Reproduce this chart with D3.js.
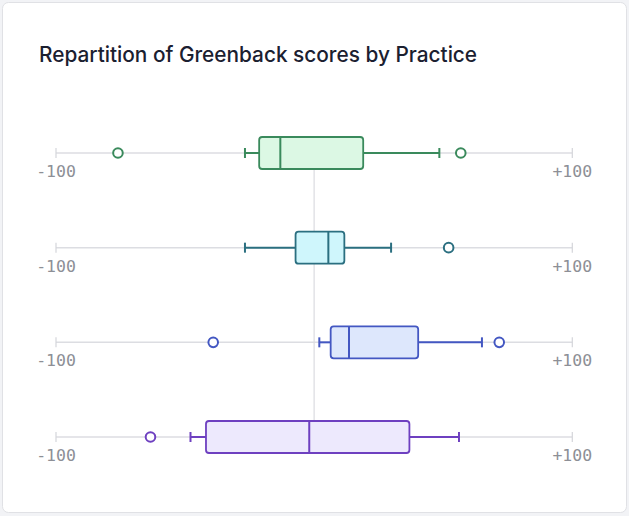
<!DOCTYPE html>
<html>
<head>
<meta charset="utf-8">
<script src="https://cdn.jsdelivr.net/npm/d3@7/dist/d3.min.js"></script>
<style>
  html, body { margin: 0; padding: 0; background: #f2f3f6; }
  svg { display: block; }
</style>
</head>
<body>
<svg id="chart" width="629" height="516"></svg>
<script>
// ---- Data ----
const practices = ["Practice A", "Practice B", "Practice C", "Practice D"];
const whiskerMin = [-26.8, -26.8, 2.0, -47.9];
const q1         = [-21.3, -7.2, 6.4, -41.9];
const median     = [-13.1, 5.5, 13.5, -1.9];
const q3         = [19.0, 11.7, 40.3, 36.9];
const whiskerMax = [48.5, 29.8, 65.0, 56.1];
const outliers   = [[-76.0, 56.8], [52.1], [-39.1, 71.7], [-63.4]];
const strokeColors = ["#3a8a5c", "#2b6f80", "#4357c2", "#6e40c0"];
const fillColors   = ["#dcf8e4", "#cff6fc", "#dde7fc", "#ede9fd"];
const domainTicks = [-100, 100];
const tickLabels = ["-100", "+100"];
const title = "Repartition of Greenback scores by Practice";

const svg = d3.select("#chart");

// card
svg.append("rect")
  .attr("x", 2.5).attr("y", 2.5)
  .attr("width", 624).attr("height", 510)
  .attr("rx", 6)
  .attr("fill", "#ffffff")
  .attr("stroke", "#e0e1e5");

svg.append("text")
  .attr("x", 39).attr("y", 62)
  .attr("font-family", "Inter, 'Open Sans', sans-serif")
  .attr("font-weight", 500)
  .attr("font-size", 20.8)
  .attr("fill", "#1b2030")
  .text(title);

const x = d3.scaleLinear().domain([-100, 100]).range([56, 572.3]);
const y = d3.scalePoint().domain(practices).range([153, 437]);
const boxH = 32;
const capH = 10;

// zero reference line
svg.append("line")
  .attr("x1", x(0)).attr("x2", x(0))
  .attr("y1", y(practices[0])).attr("y2", y(practices[practices.length - 1]))
  .attr("stroke", "#e2e3e7").attr("stroke-width", 1.5);

practices.forEach((p, i) => {
  const cy = y(p);
  const g = svg.append("g");
  // axis line
  g.append("line")
    .attr("x1", x(-100)).attr("x2", x(100))
    .attr("y1", cy).attr("y2", cy)
    .attr("stroke", "#dcdde2").attr("stroke-width", 1.5);
  domainTicks.forEach((t, k) => {
    g.append("line")
      .attr("x1", x(t)).attr("x2", x(t))
      .attr("y1", cy - 5).attr("y2", cy + 5)
      .attr("stroke", "#d4d5da").attr("stroke-width", 1.2);
    g.append("text")
      .attr("x", x(t)).attr("y", cy + 24)
      .attr("text-anchor", "middle")
      .attr("font-family", "'DejaVu Sans Mono', 'Liberation Mono', monospace")
      .attr("font-size", 16.5)
      .attr("fill", "#8d8f96")
      .text(tickLabels[k]);
  });
  const sc = strokeColors[i];
  // whiskers
  g.append("line")
    .attr("x1", x(whiskerMin[i])).attr("x2", x(q1[i]))
    .attr("y1", cy).attr("y2", cy)
    .attr("stroke", sc).attr("stroke-width", 2);
  g.append("line")
    .attr("x1", x(q3[i])).attr("x2", x(whiskerMax[i]))
    .attr("y1", cy).attr("y2", cy)
    .attr("stroke", sc).attr("stroke-width", 2);
  [whiskerMin[i], whiskerMax[i]].forEach(v => {
    g.append("line")
      .attr("x1", x(v)).attr("x2", x(v))
      .attr("y1", cy - capH / 2).attr("y2", cy + capH / 2)
      .attr("stroke", sc).attr("stroke-width", 2);
  });
  // box
  g.append("rect")
    .attr("x", x(q1[i])).attr("y", cy - boxH / 2)
    .attr("width", x(q3[i]) - x(q1[i])).attr("height", boxH)
    .attr("rx", 3)
    .attr("fill", fillColors[i])
    .attr("stroke", sc).attr("stroke-width", 1.8);
  g.append("line")
    .attr("x1", x(median[i])).attr("x2", x(median[i]))
    .attr("y1", cy - boxH / 2).attr("y2", cy + boxH / 2)
    .attr("stroke", sc).attr("stroke-width", 2);
  // outliers
  outliers[i].forEach(v => {
    g.append("circle")
      .attr("cx", x(v)).attr("cy", cy).attr("r", 4.8)
      .attr("fill", "#ffffff")
      .attr("stroke", sc).attr("stroke-width", 2);
  });
});
</script>
</body>
</html>
